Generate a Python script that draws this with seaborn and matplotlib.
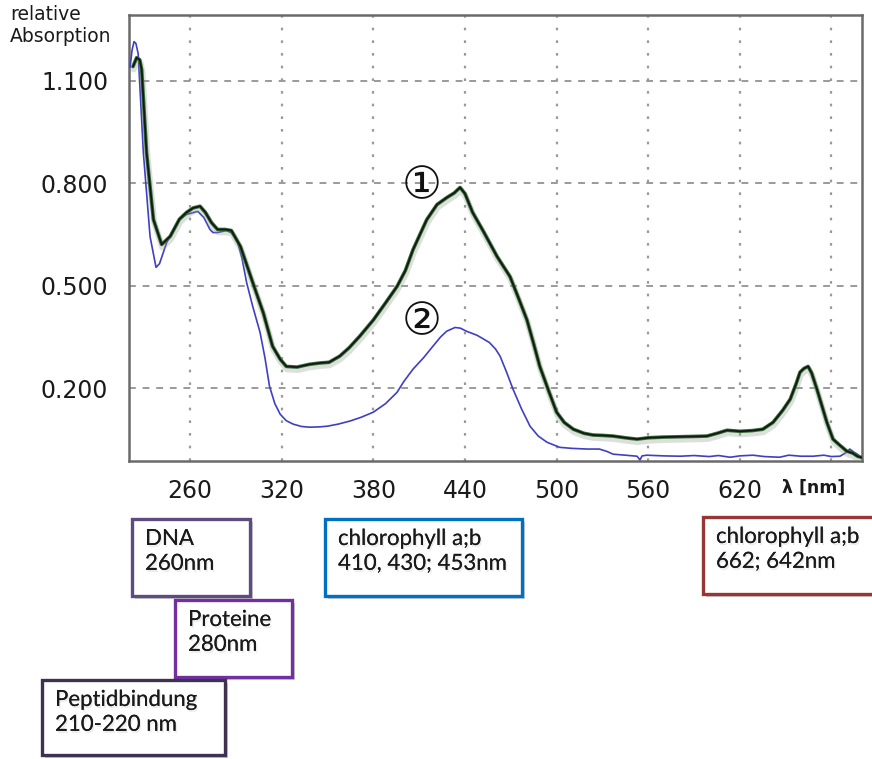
import numpy as np
import pandas as pd
import matplotlib
matplotlib.use("Agg")
import matplotlib.pyplot as plt
import matplotlib.patheffects as pe
from matplotlib.patches import Rectangle
import seaborn as sns

# Spectrum 1: leaf extract (chlorophyll + protein/DNA)
lam1 = [222.6, 225, 227, 228.3, 231.5, 236, 241.4, 247, 253, 257.7, 262, 266.5, 270, 274, 278,
        283, 287, 293, 301, 308, 314, 319, 323, 330, 338, 345, 351, 358, 364, 371, 380, 388,
        395.5, 401, 406, 411, 415, 421.7, 428, 433, 436.8, 440, 445, 452, 461, 469.5, 475,
        480.6, 485, 489, 495, 500, 505, 511, 518, 524, 530, 537, 545, 552.7, 560, 569.7, 580,
        590, 598.5, 605, 611.6, 620, 628, 635, 641.7, 648, 653, 657, 659.4, 662, 664.7, 667,
        670.5, 674, 677, 681, 685, 690, 694, 697, 700]
abs1 = [1.142, 1.168, 1.162, 1.133, 0.89, 0.694, 0.621, 0.645, 0.695, 0.715, 0.728, 0.733, 0.715,
        0.685, 0.665, 0.665, 0.662, 0.615, 0.51, 0.42, 0.323, 0.285, 0.264, 0.262, 0.27, 0.274,
        0.276, 0.294, 0.318, 0.352, 0.40, 0.45, 0.498, 0.545, 0.606, 0.655, 0.694, 0.738, 0.758,
        0.772, 0.788, 0.770, 0.715, 0.66, 0.586, 0.527, 0.465, 0.40, 0.33, 0.264, 0.19, 0.13,
        0.10, 0.08, 0.068, 0.063, 0.062, 0.06, 0.055, 0.051, 0.055, 0.057, 0.058, 0.059, 0.06,
        0.068, 0.077, 0.074, 0.076, 0.08, 0.10, 0.135, 0.168, 0.215, 0.247, 0.258, 0.264, 0.245,
        0.197, 0.145, 0.10, 0.051, 0.035, 0.016, 0.01, 0.001, -0.003]

# Spectrum 2
lam2 = [220.7, 222, 223.3, 224.5, 226, 229.4, 233.8, 237.7, 240, 244.7, 250, 253, 257.7, 265,
        269, 273, 275, 278, 284, 287, 290.7, 294, 297, 301, 305.8, 309, 312, 315.5, 319, 323,
        327.5, 333, 338.5, 345, 350, 357, 364.7, 372, 380, 388, 395.5, 400, 406, 413, 419, 424,
        428, 433.5, 437, 441, 448, 456, 460, 463, 467, 471.5, 477, 482.6, 488, 493.7, 502, 510,
        520, 528, 533, 537, 545, 552.7, 554.6, 556, 559, 570, 581, 590, 600, 606, 613.6, 620,
        628.6, 636, 646, 652, 660, 668, 675, 680, 685.6, 689, 692, 695, 697, 700]
abs2 = [1.14, 1.19, 1.215, 1.21, 1.18, 0.89, 0.644, 0.554, 0.565, 0.627, 0.672, 0.694, 0.709,
        0.718, 0.70, 0.665, 0.656, 0.656, 0.662, 0.655, 0.636, 0.58, 0.51, 0.44, 0.364, 0.29,
        0.206, 0.155, 0.124, 0.105, 0.095, 0.088, 0.086, 0.087, 0.089, 0.095, 0.104, 0.115,
        0.13, 0.155, 0.188, 0.22, 0.256, 0.29, 0.323, 0.35, 0.367, 0.378, 0.376, 0.367, 0.355,
        0.334, 0.315, 0.294, 0.25, 0.197, 0.14, 0.089, 0.06, 0.042, 0.027, 0.024, 0.022, 0.022,
        0.015, 0.007, 0.004, 0.001, -0.01, 0.002, 0.004, 0.002, 0.001, 0.003, 0.0, 0.003,
        -0.002, 0.002, 0.004, 0.0, -0.002, 0.004, 0.001, 0.001, 0.004, 0.0, 0.001, 0.01, 0.022,
        0.012, 0.007, -0.005]

x_ticks = [260, 320, 380, 440, 500, 560, 620, 680]
x_tick_labels = ["260", "320", "380", "440", "500", "560", "620", ""]
y_ticks = [0.2, 0.5, 0.8, 1.1]
y_tick_labels = ["0.200", "0.500", "0.800", "1.100"]

# Absorption bands annotated below the axis: text, border colour, box (x0, y0, x1, y1) in px
band_texts = ["DNA\n260nm", "Proteine\n280nm", "Peptidbindung\n210-220 nm",
              "chlorophyll a;b\n410, 430; 453nm", "chlorophyll a;b\n662; 642nm"]
band_colors = ["#5f4b7f", "#7030a0", "#3f3151", "#0070c0", "#953735"]
band_boxes = [(132, 519, 250, 596), (175, 600, 292, 677), (42, 680, 225, 755),
              (325, 519, 522, 596), (703, 517, 880, 594)]

W, H = 872, 759
sns.set_style("white")
plt.rcParams["font.family"] = ["DejaVu Sans"]

fig = plt.figure(figsize=(W / 100, H / 100), dpi=100)
ax = fig.add_axes([129 / W, 1 - 461 / H, (862 - 129) / W, (461 - 15) / H])


def fx(x):
    return x / W


def fy(y):
    return 1 - y / H


df1 = pd.DataFrame({"lam": lam1, "A": abs1})
df2 = pd.DataFrame({"lam": lam2, "A": abs2})

sns.lineplot(data=df2, x="lam", y="A", ax=ax, color="#3f3fc4", linewidth=1.2,
             estimator=None, sort=False, zorder=3)
sns.lineplot(data=df1, x="lam", y="A", ax=ax, color="#111a11", linewidth=1.3,
             estimator=None, sort=False, zorder=4)
green_line = ax.get_lines()[-1]
green_line.set_path_effects([
    pe.SimpleLineShadow(offset=(0.5, -2), shadow_color="#8a9a8a", alpha=0.3, linewidth=4.5),
    pe.Stroke(linewidth=2.6, foreground="#3a6e3a"),
    pe.Normal(),
])

ax.set_xlim(220, 700)
ax.set_ylim(-0.013, 1.293)
ax.set_xticks(x_ticks)
ax.set_xticklabels(x_tick_labels)
ax.set_yticks(y_ticks)
ax.set_yticklabels(y_tick_labels)
ax.set_xlabel("")
ax.set_ylabel("")

ax.xaxis.grid(True, color="#9a9a9a", linestyle=(0, (1.2, 4.5)), linewidth=1.6)
ax.yaxis.grid(True, color="#9a9a9a", linestyle=(0, (3.5, 3.5)), linewidth=1.4)
ax.set_axisbelow(True)
ax.tick_params(axis="both", which="major", direction="out", length=5, width=1,
               color="#aaaaaa", labelsize=17, labelcolor="#1a1a1a")
ax.tick_params(axis="x", pad=8)
ax.tick_params(axis="y", pad=10)
for s in ax.spines.values():
    s.set_color("#6a6a6a")
    s.set_linewidth(1.8)

# Circled curve labels
ax.text(411.5, 0.794, "\u2460", fontsize=32, ha="center", va="center", color="#111111", zorder=5)
ax.text(411.5, 0.396, "\u2461", fontsize=32, ha="center", va="center", color="#111111", zorder=5)

# Axis captions
fig.text(fx(10), fy(5), "relative\nAbsorption", fontsize=13.5, ha="left", va="top",
         linespacing=1.2, color="#1a1a1a")
fig.text(fx(814), fy(488), "\u03bb [nm]", fontsize=12.5, fontweight="bold", ha="center",
         va="center", color="#1a1a1a")

# Annotation boxes
for txt, col, (x0, y0, x1, y1) in zip(band_texts, band_colors, band_boxes):
    rect = Rectangle((fx(x0), fy(y1)), fx(x1 - x0), (y1 - y0) / H, transform=fig.transFigure,
                     facecolor="white", edgecolor=col, linewidth=2.4, zorder=2)
    rect.set_path_effects([pe.withSimplePatchShadow(offset=(2, -2), shadow_rgbFace="#707070",
                                                    alpha=0.35)])
    fig.add_artist(rect)
    t = fig.text(fx(x0 + 13), fy(y0 + 10), txt, fontsize=16, family=["Lato", "DejaVu Sans"],
                 ha="left", va="top", linespacing=1.3, color="#1a1a1a", zorder=3)
    t.set_path_effects([pe.withSimplePatchShadow(offset=(1, -1.5), shadow_rgbFace="#a0a0a0",
                                                 alpha=0.2), pe.Normal()])

fig.savefig("out.png", dpi=100)
